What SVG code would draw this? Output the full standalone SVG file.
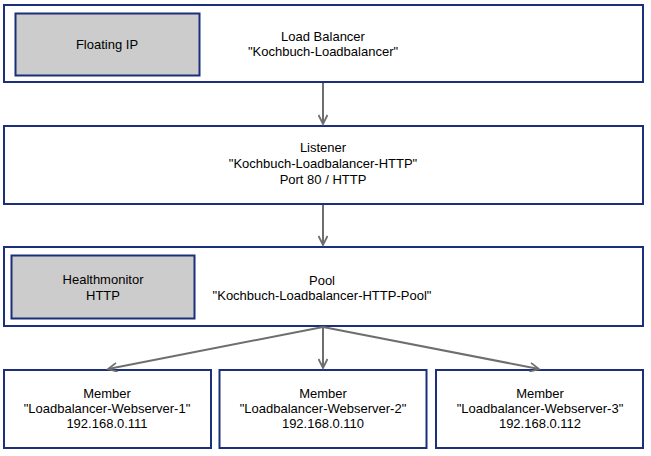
<svg xmlns="http://www.w3.org/2000/svg" width="651" height="456" viewBox="0 0 651 456">
<defs>
<marker id="arr" markerWidth="12" markerHeight="10" refX="10" refY="5" orient="auto" markerUnits="userSpaceOnUse">
<path d="M1,0.5 L10,5 L1,9.5" fill="none" stroke="#6e6e6e" stroke-width="1.8"/>
</marker>
<style>
.box{fill:#fff;stroke:#1b2f7a;stroke-width:2}
.inner{fill:#cccccc;stroke:#1b2f7a;stroke-width:2}
.t{font-family:"Liberation Sans",Arial,sans-serif;font-size:13px;fill:#000;text-anchor:middle}
.c{stroke:#6e6e6e;stroke-width:2;fill:none;marker-end:url(#arr)}
</style>
</defs>
<rect width="651" height="456" fill="#fff"/>
<g id="loadbalancer">
<rect class="box" x="4" y="5" width="639" height="77"/>
<text class="t" x="323" y="41">Load Balancer</text>
<text class="t" x="323" y="56">"Kochbuch-Loadbalancer"</text>
</g>
<g id="floatingip">
<rect class="inner" x="15.5" y="13.5" width="184" height="62"/>
<text class="t" x="107" y="49">Floating IP</text>
</g>
<g id="listener">
<rect class="box" x="4" y="126" width="639" height="78"/>
<text class="t" x="323" y="152">Listener</text>
<text class="t" x="323" y="168">"Kochbuch-Loadbalancer-HTTP"</text>
<text class="t" x="323" y="184">Port 80 / HTTP</text>
</g>
<g id="pool">
<rect class="box" x="4" y="247" width="639" height="79"/>
<text class="t" x="322" y="285">Pool</text>
<text class="t" x="322" y="300">"Kochbuch-Loadbalancer-HTTP-Pool"</text>
</g>
<g id="healthmonitor">
<rect class="inner" x="11.5" y="255.5" width="183" height="63"/>
<text class="t" x="103" y="284">Healthmonitor</text>
<text class="t" x="103" y="300">HTTP</text>
</g>
<g id="member1">
<rect class="box" x="4" y="370" width="207" height="78"/>
<text class="t" x="107" y="398">Member</text>
<text class="t" x="107" y="413">"Loadbalancer-Webserver-1"</text>
<text class="t" x="107" y="428">192.168.0.111</text>
</g>
<g id="member2">
<rect class="box" x="219.5" y="370" width="207" height="78"/>
<text class="t" x="323" y="398">Member</text>
<text class="t" x="323" y="413">"Loadbalancer-Webserver-2"</text>
<text class="t" x="323" y="428">192.168.0.110</text>
</g>
<g id="member3">
<rect class="box" x="436" y="370" width="207" height="78"/>
<text class="t" x="540" y="398">Member</text>
<text class="t" x="540" y="413">"Loadbalancer-Webserver-3"</text>
<text class="t" x="540" y="428">192.168.0.112</text>
</g>
<g id="connectors">
<line class="c" x1="323" y1="83" x2="323" y2="124"/>
<line class="c" x1="323" y1="205" x2="323" y2="245"/>
<line class="c" x1="323" y1="327" x2="323" y2="368"/>
<line class="c" x1="323" y1="327" x2="108" y2="369"/>
<line class="c" x1="323" y1="327" x2="539" y2="369"/>
</g>
</svg>
